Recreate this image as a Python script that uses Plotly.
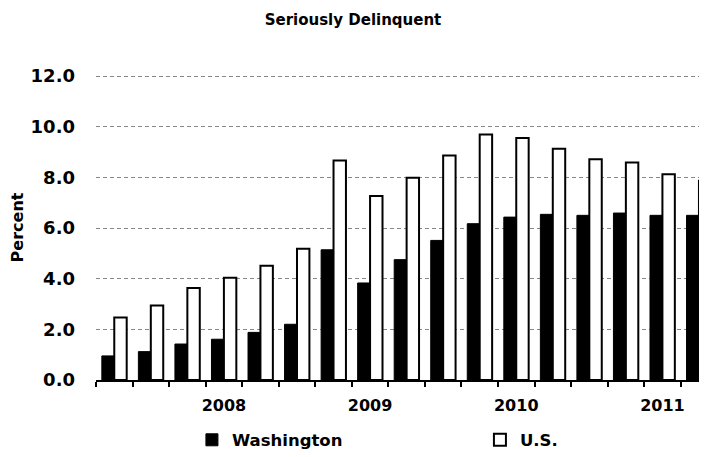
import plotly.graph_objects as go

# quarterly observations, 2007 Q2 .. 2011 Q2
quarters = list(range(17))
year_ticks = [3, 7, 11, 15]
year_labels = ["2008", "2009", "2010", "2011"]

washington = [0.95, 1.12, 1.42, 1.61, 1.88, 2.20, 5.14, 3.83, 4.75, 5.51,
              6.17, 6.43, 6.54, 6.50, 6.59, 6.50, 6.50]
us = [2.47, 2.94, 3.63, 4.04, 4.51, 5.18, 8.66, 7.26, 7.98, 8.86,
      9.69, 9.55, 9.13, 8.71, 8.59, 8.12, 7.87]

font_family = "DejaVu Sans"

fig = go.Figure()
fig.add_trace(go.Bar(x=quarters, y=washington, name="Washington",
                     marker=dict(color="black", line=dict(color="black", width=1))))
fig.add_trace(go.Bar(x=quarters, y=us, name="U.S.",
                     marker=dict(color="white", line=dict(color="black", width=2))))

# page body has an 8px margin, so the figure is 8px smaller than the window
fig.update_layout(
    width=699, height=449,
    margin=dict(l=88, r=0, t=67, b=77, autoexpand=False),
    paper_bgcolor="white", plot_bgcolor="white",
    barmode="group", bargap=0.32, bargroupgap=0,
    font=dict(family=font_family, color="black", size=15, weight="bold"),
    title=dict(text="Seriously Delinquent", x=(353 - 8) / 699, xanchor="center",
               y=1 - 12 / 449, yanchor="middle", automargin=False,
               font=dict(size=15, weight="bold")),
    legend=dict(orientation="h", x=0.157, xanchor="left", y=-0.197, yanchor="middle",
                entrywidth=243, entrywidthmode="pixels",
                font=dict(size=16.5, weight="bold")),
)

fig.update_xaxes(
    range=[-0.5, 16.22], automargin=False,
    tickmode="array", tickvals=year_ticks, ticktext=year_labels,
    ticks="", showgrid=False, zeroline=False,
    showline=True, linecolor="black", linewidth=2,
    minor=dict(tickmode="linear", tick0=-0.5, dtick=1, ticks="outside",
               ticklen=5, tickwidth=2, tickcolor="black", showgrid=False),
    ticklabelstandoff=10,
    tickfont=dict(size=16, weight="bold"),
)
fig.update_yaxes(
    range=[0, 12.04], automargin=False,
    tickmode="linear", tick0=0, dtick=2, tickformat=".1f",
    showgrid=True, gridcolor="#888888", griddash="4px,3px", gridwidth=1,
    zeroline=False, showline=False, ticks="",
    ticklabelstandoff=20,
    tickfont=dict(size=18, weight="bold"),
    title=dict(text="Percent", standoff=6, font=dict(size=16, weight="bold")),
)

fig.write_html("out.html")
